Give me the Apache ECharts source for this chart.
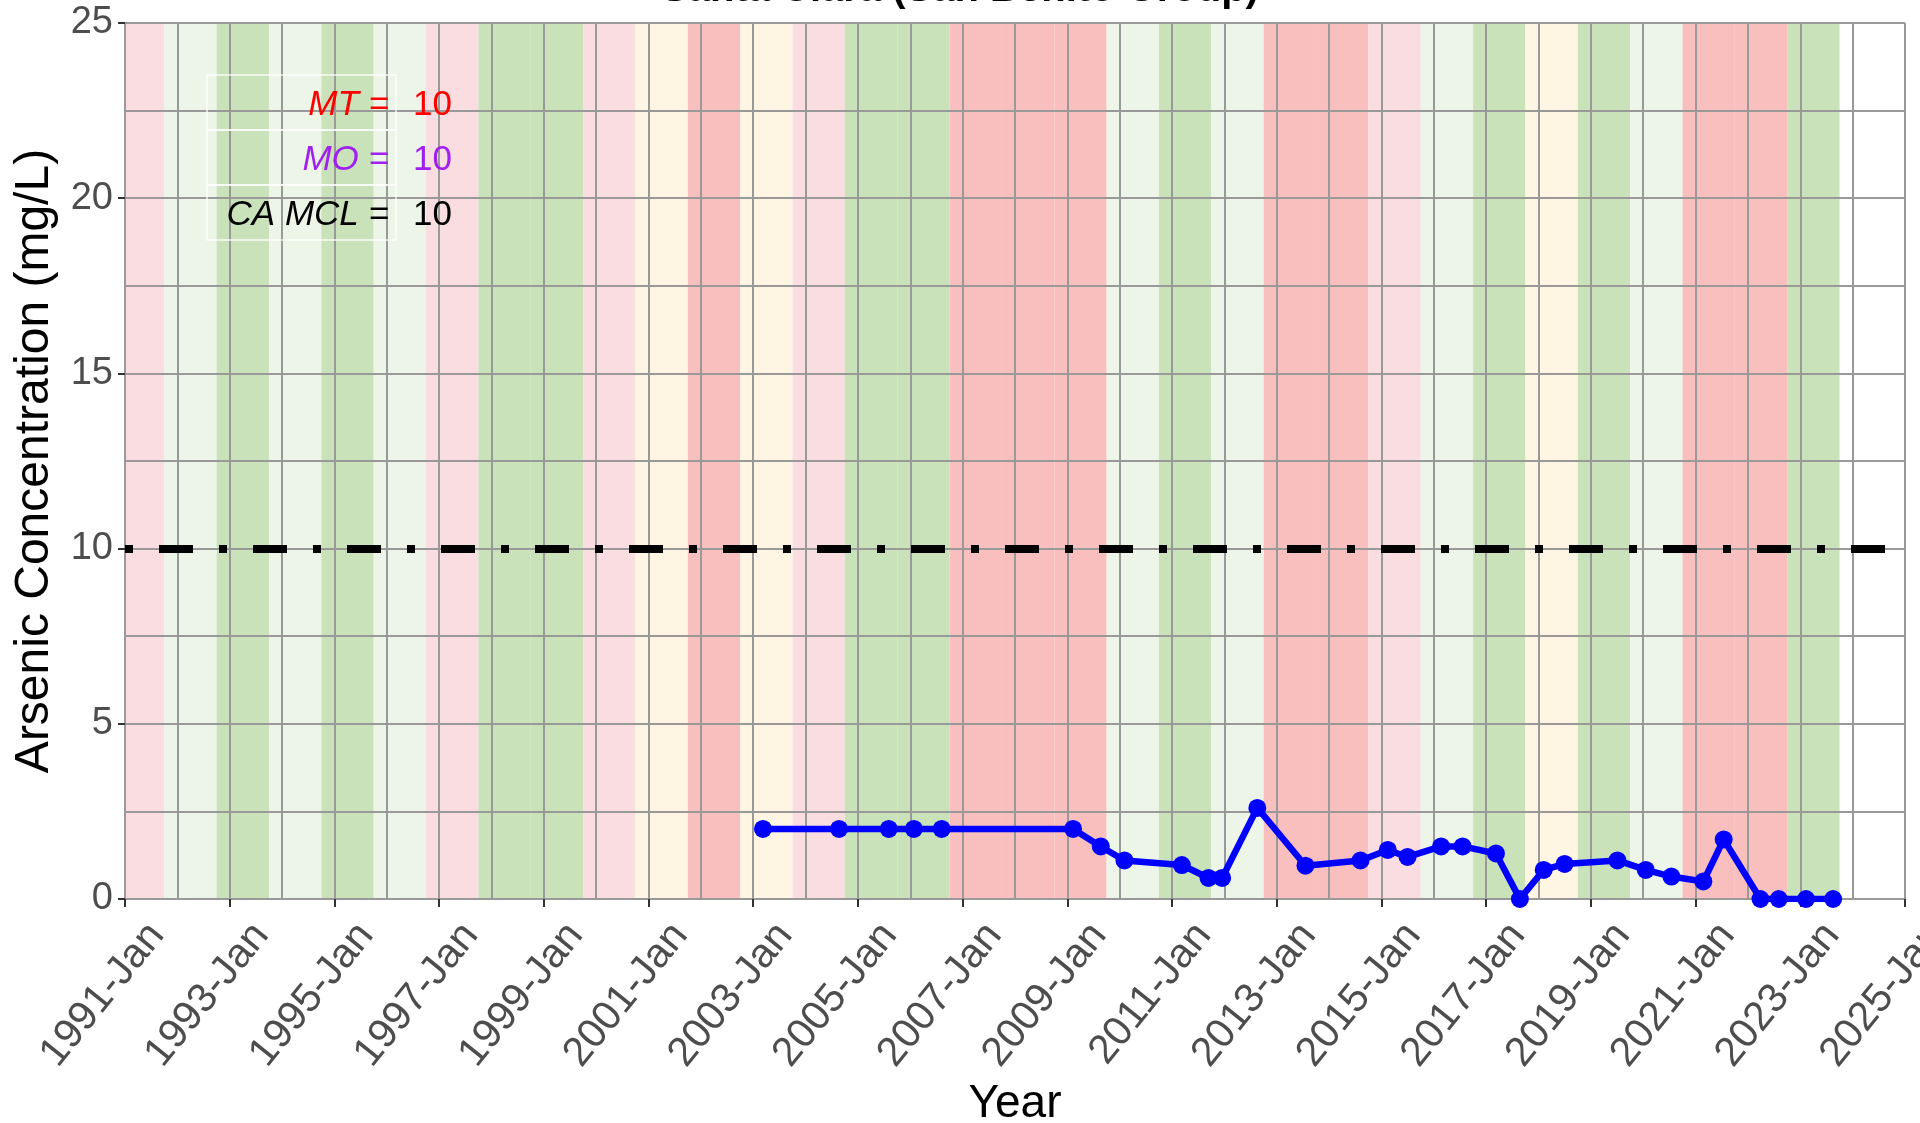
<!DOCTYPE html>
<html>
<head>
<meta charset="utf-8">
<script src="https://cdn.jsdelivr.net/npm/echarts@6/dist/echarts.min.js"></script>
<style>
  html, body { margin: 0; padding: 0; background: #fff; }
  #chart { width: 1920px; height: 1123px; }
</style>
</head>
<body>
<div id="chart"></div>
<script>
// sample dates and arsenic values (mg/L)
const sampleDates = [
  '2003-03-10', '2004-08-22', '2005-08-04', '2006-01-26', '2006-08-08',
  '2009-02-10', '2009-08-22', '2010-02-03', '2011-03-10', '2011-09-12',
  '2011-12-16', '2012-08-18', '2013-07-20', '2014-08-08', '2015-02-14',
  '2015-07-02', '2016-02-21', '2016-07-20', '2017-03-10', '2017-08-24',
  '2018-02-06', '2018-07-02', '2019-07-05', '2020-01-19', '2020-07-16',
  '2021-02-24', '2021-07-16', '2022-03-29', '2022-08-04', '2023-02-10',
  '2023-08-18'
]
const arsenicValues = [
  2.0, 2.0, 2.0, 2.0, 2.0,
  2.0, 1.5, 1.1, 0.97, 0.6,
  0.6, 2.6, 0.95, 1.1, 1.4,
  1.2, 1.5, 1.5, 1.3, 0,
  0.83, 1.0, 1.1, 0.83, 0.64,
  0.5, 1.7, 0, 0, 0,
  0
]

// water year types (W, AN, BN, D, C)
const waterYears = [
  1991, 1992, 1993, 1994, 1995, 1996, 1997, 1998, 1999, 2000, 2001,
  2002, 2003, 2004, 2005, 2006, 2007, 2008, 2009, 2010, 2011, 2012,
  2013, 2014, 2015, 2016, 2017, 2018, 2019, 2020, 2021, 2022, 2023
]
const waterYearTypes = [
  'BN', 'AN', 'W', 'AN', 'W', 'AN', 'BN', 'W', 'W', 'BN', 'D',
  'C', 'D', 'BN', 'W', 'W', 'C', 'C', 'C', 'AN', 'W', 'AN',
  'C', 'C', 'BN', 'AN', 'W', 'D', 'W', 'AN', 'C', 'C', 'W'
]

// thresholds
const MT = 10
const MO = 10
const CA_MCL = 10

const xRange = [1991, 2025]
const yRange = [0, 25]

const typeColors = {
  W: '#c9e2b9',
  AN: '#edf4e8',
  BN: '#fadde0',
  D: '#fef6e3',
  C: '#f9bfbf'
}

const FONT = 'Liberation Sans'

// 'YYYY-MM-DD' -> decimal year
const toYear = (s) => {
  const [y, m, d] = s.split('-').map(Number)
  const start = Date.UTC(y, 0, 1)
  const end = Date.UTC(y + 1, 0, 1)
  return y + (Date.UTC(y, m - 1, d) - start) / (end - start)
}

const points = sampleDates.map((d, i) => [toYear(d), arsenicValues[i]])

// water year runs Oct (y-1) .. Sep y
const bands = waterYears.map((wy, i) => [
  Math.max(wy - 0.25, xRange[0]),
  Math.min(wy + 0.75, xRange[1]),
  waterYearTypes[i]
])

const chart = echarts.init(document.getElementById('chart'))

const legendRows = [
  { label: 'MT =', value: MT, color: '#ff0000', y: 105 },
  { label: 'MO =', value: MO, color: '#a020f0', y: 160 },
  { label: 'CA MCL =', value: CA_MCL, color: '#000000', y: 215 }
]

const option = {
  animation: false,
  backgroundColor: '#ffffff',
  title: {
    text: 'Santa Clara (San Benito Group)',
    left: 'center',
    top: -35,
    textStyle: { fontFamily: FONT, fontSize: 40, fontWeight: 'bold', color: '#000' }
  },
  grid: { left: 125, right: 15, top: 23, bottom: 224, containLabel: false, outerBoundsMode: 'none' },
  xAxis: {
    type: 'value',
    min: xRange[0],
    max: xRange[1],
    interval: 2,
    z: 1,
    name: 'Year',
    nameLocation: 'middle',
    nameGap: 180,
    nameTextStyle: { fontFamily: FONT, fontSize: 46, color: '#000' },
    axisLine: { show: false },
    axisTick: { show: true, length: 8, lineStyle: { color: '#333', width: 2 } },
    axisLabel: {
      rotate: 51,
      margin: 4,
      align: 'right',
      verticalAlign: 'top',
      padding: [20, 0, 0, 0],
      hideOverlap: false,
      fontFamily: FONT,
      fontSize: 41,
      color: '#4d4d4d',
      formatter: (v) => v + '-Jan'
    },
    splitLine: { show: true, lineStyle: { color: '#999999', width: 2 } },
    minorTick: { show: false, splitNumber: 2 },
    minorSplitLine: { show: true, lineStyle: { color: '#999999', width: 2 } }
  },
  yAxis: {
    type: 'value',
    min: yRange[0],
    max: yRange[1],
    interval: 5,
    z: 1,
    name: 'Arsenic Concentration (mg/L)',
    nameLocation: 'middle',
    nameGap: 66,
    nameTextStyle: { fontFamily: FONT, fontSize: 48, color: '#000' },
    axisLine: { show: false },
    axisTick: { show: true, length: 7, lineStyle: { color: '#333', width: 2 } },
    axisLabel: { margin: 12, fontFamily: FONT, fontSize: 38, color: '#4d4d4d' },
    splitLine: { show: true, lineStyle: { color: '#999999', width: 2 } },
    minorTick: { show: false, splitNumber: 2 },
    minorSplitLine: { show: true, lineStyle: { color: '#999999', width: 2 } }
  },
  series: [
    {
      // water year type background
      type: 'custom',
      z: 0,
      silent: true,
      encode: { x: [0, 1] },
      data: bands,
      renderItem: (params, api) => {
        const p0 = api.coord([api.value(0), yRange[1]])
        const p1 = api.coord([api.value(1), yRange[0]])
        return {
          type: 'rect',
          shape: { x: p0[0], y: p0[1], width: p1[0] - p0[0], height: p1[1] - p0[1] },
          style: { fill: typeColors[bands[params.dataIndex][2]] }
        }
      }
    },
    {
      type: 'line',
      z: 3,
      data: points,
      symbol: 'circle',
      symbolSize: 18,
      lineStyle: { color: '#0000ff', width: 6.5 },
      itemStyle: { color: '#0000ff' },
      markLine: {
        silent: true,
        symbol: 'none',
        label: { show: false },
        lineStyle: {
          color: '#000',
          width: 8,
          type: [8, 26, 34, 26],
          cap: 'butt'
        },
        data: [{ yAxis: CA_MCL }]
      }
    }
  ],
  graphic: [
    ...legendRows.map((r) => ({
      type: 'rect',
      z: 10,
      shape: { x: 207, y: r.y - 30, width: 189, height: 55 },
      style: { fill: 'none', stroke: 'rgba(255,255,255,0.85)', lineWidth: 1.5 }
    })),
    ...legendRows.map((r) => ({
      type: 'text',
      z: 11,
      x: 389,
      y: r.y,
      style: {
        text: r.label,
        fill: r.color,
        font: 'italic 35px "Liberation Sans"',
        textAlign: 'right',
        textVerticalAlign: 'middle'
      }
    })),
    ...legendRows.map((r) => ({
      type: 'text',
      z: 11,
      x: 413,
      y: r.y,
      style: {
        text: String(r.value),
        fill: r.color,
        font: '35px "Liberation Sans"',
        textAlign: 'left',
        textVerticalAlign: 'middle'
      }
    }))
  ]
}

chart.setOption(option)
</script>
</body>
</html>
